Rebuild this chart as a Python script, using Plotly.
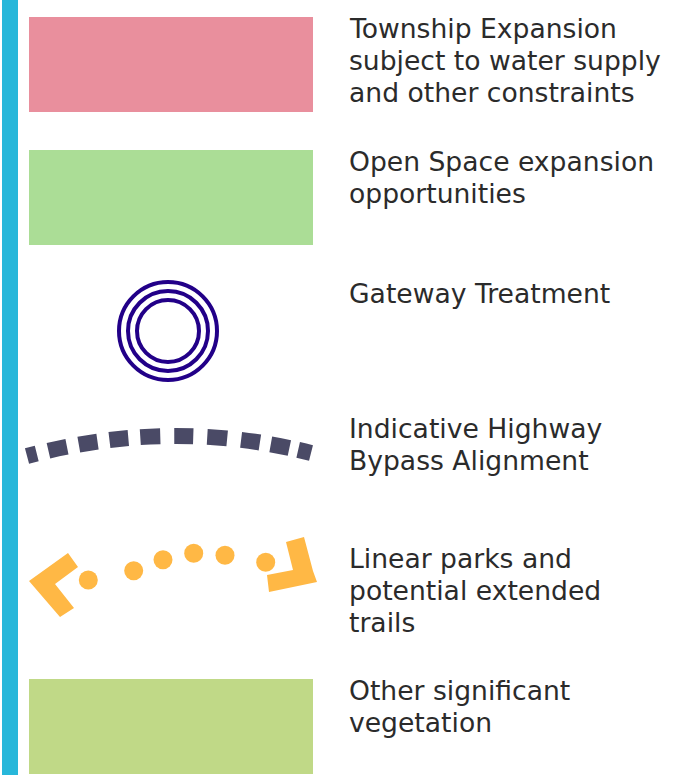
import plotly.graph_objects as go

# ---- content ----
legend_labels = [
    ["Township Expansion", "subject to water supply", "and other constraints"],
    ["Open Space expansion", "opportunities"],
    ["Gateway Treatment"],
    ["Indicative Highway", "Bypass Alignment"],
    ["Linear parks and", "potential extended", "trails"],
    ["Other significant", "vegetation"],
]
symbol_kinds = ["rect", "rect", "rings", "dashed", "trail", "rect"]

# ---- styles / layout (not data) ----
W, H = 699, 775
fill_colors = {0: "#E98F9D", 1: "#ABDD96", 5: "#C0D987"}
rect_rows = {0: (17, 112), 1: (150, 245), 5: (679, 774)}
text_first_line = [28, 161, 293, 428, 558, 690]
line_gap = 32
text_x = 347
text_color = "#2B2B2B"
font_family = "DejaVu Sans, Verdana, sans-serif"
font_size = 26.6

fig = go.Figure()
shapes = []
annotations = []

# left accent bar
shapes.append(dict(type="rect", xref="x", yref="y", x0=2, x1=18, y0=0, y1=H,
                   fillcolor="#27B7DA", line=dict(width=0), layer="above"))

for i, kind in enumerate(symbol_kinds):
    if kind == "rect":
        y0, y1 = rect_rows[i]
        shapes.append(dict(type="rect", xref="x", yref="y", x0=29, x1=313, y0=y0, y1=y1,
                           fillcolor=fill_colors[i], line=dict(width=0)))
    elif kind == "rings":
        for r in (49, 40, 31):
            shapes.append(dict(type="circle", xref="x", yref="y",
                               x0=168 - r, x1=168 + r, y0=331 - r, y1=331 + r,
                               line=dict(color="#220088", width=4)))
    elif kind == "dashed":
        shapes.append(dict(type="path", xref="x", yref="y",
                           path="M 27 456 Q 171 417.5 311 453",
                           line=dict(color="#4A4A66", width=16,
                                     dash="10px,12px,19px,12px,19px,12px,19px,12px,20px,14px,19px,14px,20px,14px,19px,11px,19px,9px,14px")))
    elif kind == "trail":
        orange = "#FFB845"
        shapes.append(dict(type="path", xref="x", yref="y",
                           path="M 29 581 L 68 553 L 78 567 L 55 584 L 74 608 L 60 617 Z",
                           fillcolor=orange, line=dict(width=0)))
        shapes.append(dict(type="path", xref="x", yref="y",
                           path="M 286 542 L 304 537 L 313 571 L 317 582 L 269 592 L 267 575 L 293 570 Z",
                           fillcolor=orange, line=dict(width=0)))
        for cx, cy in [(88.3, 580), (133.7, 570.7), (163, 559.7), (193.7, 553.3), (225, 555.3), (265.7, 562.3)]:
            r = 9.5
            shapes.append(dict(type="circle", xref="x", yref="y",
                               x0=cx - r, x1=cx + r, y0=cy - r, y1=cy + r,
                               fillcolor=orange, line=dict(width=0)))

    for j, txt in enumerate(legend_labels[i]):
        annotations.append(dict(x=text_x, y=text_first_line[i] + j * line_gap, xref="x", yref="y",
                                text=txt, showarrow=False, xanchor="left", yanchor="middle",
                                font=dict(family=font_family, size=font_size, color=text_color)))

fig.update_layout(
    width=W, height=H,
    margin=dict(l=0, r=0, t=0, b=0),
    paper_bgcolor="white", plot_bgcolor="white",
    xaxis=dict(range=[0, W], visible=False, fixedrange=True),
    yaxis=dict(range=[H, 0], visible=False, fixedrange=True),
    shapes=shapes, annotations=annotations, showlegend=False,
)
fig.write_html("out.html", config={"displayModeBar": False},
               post_script="document.body.style.margin='0';document.body.style.overflow='hidden';")
